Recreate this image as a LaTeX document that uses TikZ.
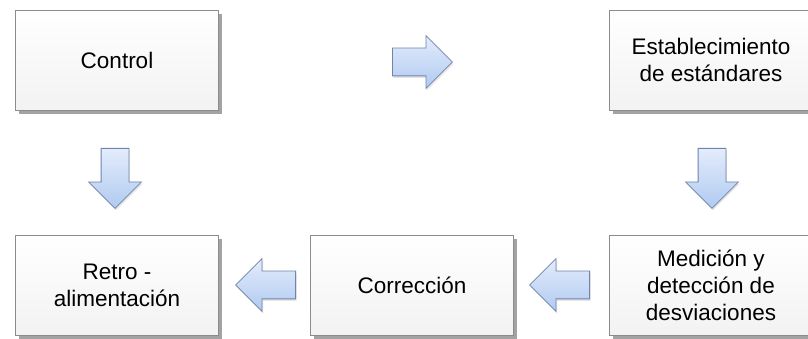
\documentclass[tikz,border=0pt]{standalone}
\usepackage{fontspec}
\setmainfont{Liberation Sans}
\usepackage{tikz}
\usetikzlibrary{shapes,arrows,positioning,shadows}

\definecolor{boxline}{HTML}{8C8C8C}
\definecolor{arrowtop}{HTML}{E3ECFB}
\definecolor{arrowbot}{HTML}{B0CAF1}
\definecolor{arrowline}{HTML}{6F84A8}

\begin{document}
\begin{tikzpicture}[x=1pt,y=1pt,
    stage/.style={draw=boxline, top color=white, bottom color=gray!10,
        minimum width=203pt, minimum height=100pt, align=center,
        font=\fontsize{22.5}{27}\selectfont,
        drop shadow={shadow xshift=3pt, shadow yshift=-4pt, fill=gray!80, opacity=0.9}},
    blockarrow/.style={single arrow, draw=arrowline, line width=0.8pt, top color=arrowtop, bottom color=arrowbot,
        minimum height=60pt, minimum width=52pt, single arrow head extend=12.5pt,
        inner xsep=0pt, inner ysep=13.5pt,
        drop shadow={shadow xshift=1pt, shadow yshift=-2pt, fill=gray!40, opacity=0.5}},
    downarrow/.style={blockarrow, shape border rotate=270, inner xsep=13.5pt, inner ysep=0pt, anchor=tail},
    leftarrow/.style={blockarrow, shape border rotate=180, anchor=tail}]
    \path[fill=white, use as bounding box] (0,0) rectangle (808,339);

    % stages
    \node[stage] (control) at (117,279) {Control};
    \node[stage] (estandares) at (711,279) {Establecimiento\\de estándares};
    \node[stage] (medicion) at (711,54) {Medición y\\detección de\\desviaciones};
    \node[stage] (correccion) at (412,54) {Corrección};
    \node[stage] (retro) at (117,54) {Retro -\\alimentación};

    % block arrows
    \node[blockarrow, anchor=tail] (a1) at (392,277) {};
    \node[downarrow] (a2) at (712,191) {};
    \node[leftarrow] (a3) at (590,54) {};
    \node[leftarrow] (a4) at (296,54) {};
    \node[downarrow] (a5) at (115,191) {};
\end{tikzpicture}
\end{document}
